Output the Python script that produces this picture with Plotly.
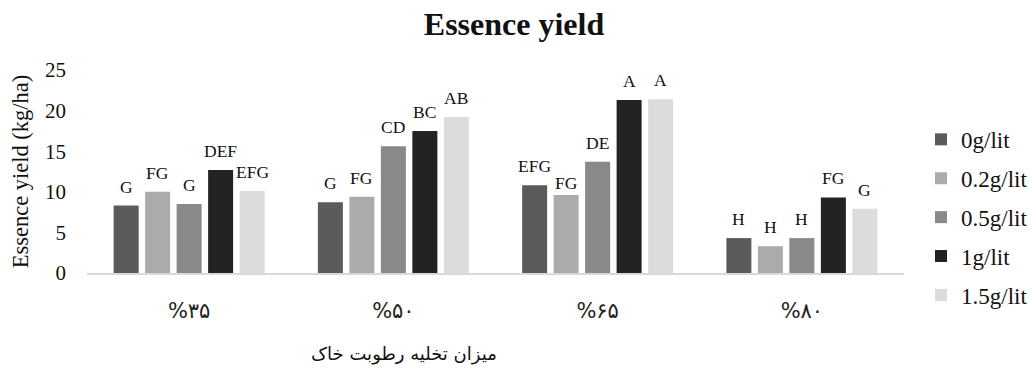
import plotly.graph_objects as go

# Soil moisture depletion levels (x categories)
categories = ["%۳۵", "%۵۰", "%۶۵", "%۸۰"]

# Concentration treatments (series)
series_names = ["0g/lit", "0.2g/lit", "0.5g/lit", "1g/lit", "1.5g/lit"]

# Essence yield (kg/ha) per treatment, one value per moisture level
yield_0 = [8.3, 8.7, 10.8, 4.3]
yield_02 = [10.0, 9.4, 9.6, 3.3]
yield_05 = [8.5, 15.6, 13.7, 4.3]
yield_1 = [12.7, 17.5, 21.3, 9.3]
yield_15 = [10.1, 19.2, 21.4, 7.9]

# Mean-comparison letters
letters_0 = ["G", "G", "EFG", "H"]
letters_02 = ["FG", "FG", "FG", "H"]
letters_05 = ["G", "CD", "DE", "H"]
letters_1 = ["DEF", "BC", "A", "FG"]
letters_15 = ["EFG", "AB", "A", "G"]

y_ticks = [0, 5, 10, 15, 20, 25]

series_values = [yield_0, yield_02, yield_05, yield_1, yield_15]
series_letters = [letters_0, letters_02, letters_05, letters_1, letters_15]
colors = ["#5b5b5b", "#ababab", "#898989", "#232323", "#dcdcdc"]

SERIF = "Liberation Serif, Times New Roman, serif"
ARABIC = "DejaVu Sans, sans-serif"

BARGAP = 0.229
BARGROUPGAP = 0.206

fig = go.Figure()
for name, vals, col in zip(series_names, series_values, colors):
    fig.add_trace(go.Bar(
        x=categories, y=vals, name=name,
        marker=dict(color=col, line=dict(width=0)),
        legendgroup=name,
    ))

# Letters above each bar
pitch = (1 - BARGAP) / len(series_names)
label_lift = {(1, 2): -7}  # pull one label down where neighbours crowd it
annotations = []
for si, (vals, lets) in enumerate(zip(series_values, series_letters)):
    for gi, (v, t) in enumerate(zip(vals, lets)):
        annotations.append(dict(
            x=gi + (si - (len(series_names) - 1) / 2) * pitch, y=v,
            xref="x", yref="y", text=t, showarrow=False,
            yanchor="middle", yshift=19 + label_lift.get((si, gi), 0),
            font=dict(family=SERIF, size=17.5, color="#111"),
        ))

# Axis title under the category labels
annotations.append(dict(
    x=(404 - 87) / (904 - 87), y=-(354 - 272.7) / (272.7 - 69.5),
    xref="x domain", yref="y domain",
    text="میزان تخلیه رطوبت خاک", showarrow=False,
    xanchor="center", yanchor="middle",
    font=dict(family=ARABIC, size=18, color="#111"),
))

fig.update_layout(
    width=1032, height=374,
    margin=dict(l=87, r=128, t=69.5, b=101.3),
    paper_bgcolor="white", plot_bgcolor="white",
    barmode="group", bargap=BARGAP, bargroupgap=BARGROUPGAP,
    title=dict(
        text="<b>Essence yield</b>", x=514 / 1032, xanchor="center",
        y=1 - 24 / 374, yanchor="middle",
        font=dict(family=SERIF, size=32, color="#111"),
    ),
    legend=dict(
        x=921 / 1032, xref="container", xanchor="left",
        y=0.274, yanchor="middle",
        font=dict(family=SERIF, size=23, color="#111"),
        traceorder="grouped", tracegroupgap=6,
        itemwidth=30,
    ),
    annotations=annotations,
    showlegend=True,
)

fig.update_xaxes(
    showgrid=False, showline=True, linecolor="#d9d9d9", linewidth=2,
    ticks="", ticklabelstandoff=18,
    tickfont=dict(family=ARABIC, size=21, color="#222"),
)
fig.update_yaxes(
    range=[0, 25], tickvals=y_ticks, showgrid=False, showline=False,
    zeroline=False, ticks="", ticklabelstandoff=20,
    tickfont=dict(family=SERIF, size=21, color="#111"),
    title=dict(text="Essence yield (kg/ha)", standoff=10,
               font=dict(family=SERIF, size=22.5, color="#111")),
)

fig.write_html("out.html")
